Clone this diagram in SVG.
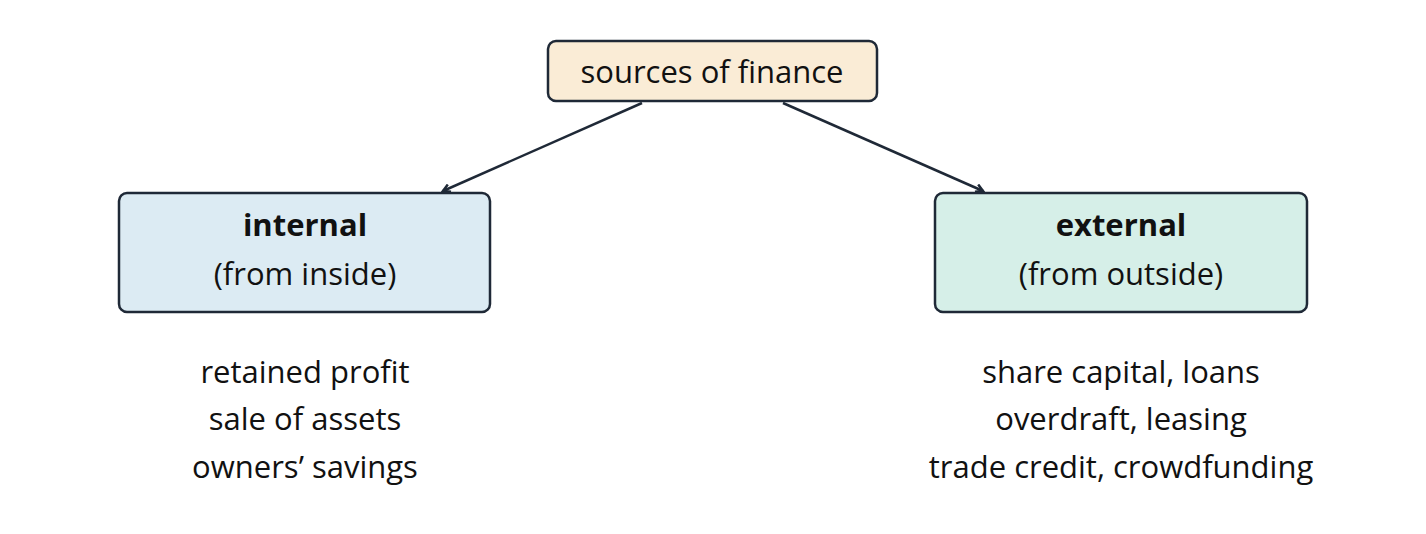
<svg xmlns="http://www.w3.org/2000/svg" width="1426" height="534" viewBox="0 0 1426 534">
<style>
.box{stroke:#1f2937;stroke-width:2.5}
text{font-family:"Open Sans","DejaVu Sans",sans-serif;font-size:31px;fill:#111;text-anchor:middle}
.b{font-weight:bold}
.c{stroke:#1f2937;stroke-width:2.5;fill:none}
</style>
<defs><marker id="a" markerWidth="10" markerHeight="10" refX="8" refY="5" orient="auto" markerUnits="userSpaceOnUse"><path d="M1,1 L8,5 L1,9" fill="none" stroke="#1f2937" stroke-width="2.5"/></marker></defs>
<rect width="1426" height="534" fill="#fff"/>
<g id="connectors">
<line class="c" x1="642" y1="103" x2="443" y2="191" marker-end="url(#a)"/>
<line class="c" x1="783" y1="103" x2="983" y2="191" marker-end="url(#a)"/>
</g>
<g id="root"><rect class="box" x="548" y="41" width="329" height="60" rx="8" fill="#faecd6"/><text x="712" y="83">sources of finance</text></g>
<g id="internal"><rect class="box" x="119" y="193" width="371" height="119" rx="8" fill="#dcebf3"/><text class="b" x="305" y="236">internal</text><text x="305" y="285">(from inside)</text></g>
<g id="external"><rect class="box" x="935" y="193" width="372" height="119" rx="8" fill="#d6efe8"/><text class="b" x="1121" y="236">external</text><text x="1121" y="285">(from outside)</text></g>
<g id="internal-list"><text x="305" y="383">retained profit</text><text x="305" y="430">sale of assets</text><text x="305" y="478">owners’ savings</text></g>
<g id="external-list"><text x="1121" y="383">share capital, loans</text><text x="1121" y="430">overdraft, leasing</text><text x="1121" y="478">trade credit, crowdfunding</text></g>
</svg>
